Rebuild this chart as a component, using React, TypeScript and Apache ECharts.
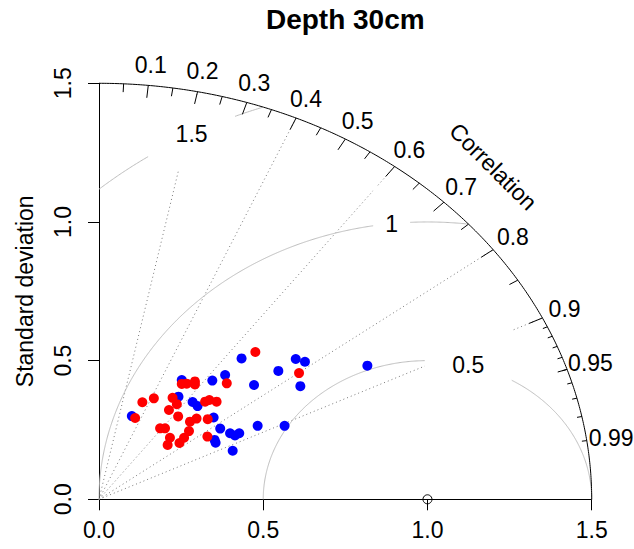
import React, { useEffect, useRef } from 'react';
import * as echarts from 'echarts';

const TITLE = 'Depth 30cm';
const Y_NAME = 'Standard deviation';
const CORR_NAME = 'Correlation';

// Points, in data units (x = sd*cor, y = sd*sin(acos(cor)))
const blueX = [0.434, 0.599, 0.627, 0.546, 0.384, 0.345, 0.252, 0.472, 0.613, 0.817, 0.242, 0.285, 0.300, 0.100, 0.349, 0.369, 0.399, 0.414, 0.427, 0.483, 0.565, 0.352, 0.355, 0.407];
const blueY = [0.508, 0.506, 0.496, 0.463, 0.448, 0.428, 0.430, 0.412, 0.408, 0.482, 0.370, 0.351, 0.336, 0.300, 0.295, 0.255, 0.238, 0.230, 0.238, 0.265, 0.265, 0.214, 0.204, 0.175];
const redX = [0.476, 0.609, 0.389, 0.252, 0.267, 0.292, 0.292, 0.132, 0.167, 0.224, 0.237, 0.213, 0.241, 0.110, 0.277, 0.297, 0.323, 0.336, 0.358, 0.331, 0.186, 0.201, 0.274, 0.259, 0.216, 0.209, 0.245, 0.330];
const redY = [0.531, 0.455, 0.418, 0.416, 0.417, 0.425, 0.414, 0.350, 0.364, 0.366, 0.343, 0.322, 0.299, 0.293, 0.280, 0.291, 0.352, 0.358, 0.352, 0.289, 0.256, 0.256, 0.246, 0.222, 0.222, 0.196, 0.203, 0.226];

const axisTicks = [0, 0.5, 1.0, 1.5];
const corrLabels = [0.1, 0.2, 0.3, 0.4, 0.5, 0.6, 0.7, 0.8, 0.9, 0.95, 0.99];
const bigTicks = [0.1, 0.2, 0.3, 0.4, 0.5, 0.6, 0.7, 0.8, 0.9];
const medTicks = [0.05, 0.15, 0.25, 0.35, 0.45, 0.55, 0.65, 0.75, 0.85, 0.95];
const smlTicks = [0.91, 0.92, 0.93, 0.94, 0.95, 0.96, 0.97, 0.98, 0.99];
const corrLines = [0.2, 0.4, 0.6, 0.8, 0.9];
const gammaLevels = [0.5, 1, 1.5];
const MAXSD = 1.5;
const REFSD = 1.0;

const FONT = 'Liberation Sans, Arial, sans-serif';

function gammaLabelPos() {
  const ng = gammaLevels.length;
  return gammaLevels.map((g, i) => {
    const idx = Math.floor(45 + ((70 - 45) * i) / (ng - 1));
    const t = (idx - 1) * 0.03;
    return [REFSD + g * Math.cos(t), g * Math.sin(t)];
  });
}

const textLabel = (extra: any = {}) => ({
  show: true,
  position: 'inside',
  formatter: '{b}',
  color: '#000',
  opacity: 1,
  fontSize: 23,
  fontFamily: FONT,
  ...extra,
});

function buildOption() {
  const series: any[] = [];
  const sinOf = (c: number) => Math.sqrt(1 - c * c);

  // correlation rays (dotted)
  corrLines.forEach((c) => {
    series.push({
      type: 'line',
      data: [[0, 0], [MAXSD * c, MAXSD * sinOf(c)]],
      symbol: 'none',
      clip: false,
      silent: true,
      z: 1,
      lineStyle: { color: '#7a7a7a', width: 1, type: [1, 3] },
    });
  });

  // centred RMS (gamma) arcs
  gammaLevels.forEach((g) => {
    const pts: number[][] = [];
    const n = 900;
    for (let i = 0; i <= n; i++) {
      const t = (Math.PI * i) / n;
      const x = REFSD + g * Math.cos(t);
      const y = g * Math.sin(t);
      if (x >= -1e-9 && x * x + y * y <= MAXSD * MAXSD) pts.push([Math.max(0, x), y]);
    }
    series.push({
      type: 'line',
      data: pts,
      symbol: 'none',
      clip: false,
      silent: true,
      z: 1,
      lineStyle: { color: '#bebebe', width: 1 },
    });
  });

  // gamma labels
  const lp = gammaLabelPos();
  series.push({
    type: 'scatter',
    symbolSize: 1,
    clip: false,
    silent: true,
    z: 5,
    itemStyle: { color: 'rgba(0,0,0,0)', opacity: 1 },
    label: textLabel(),
    data: gammaLevels.map((g, i) => ({ name: String(g), value: lp[i] })),
  });

  // outer arc
  const arc: number[][] = [];
  for (let i = 0; i <= 300; i++) {
    const t = (Math.PI / 2) * (i / 300);
    arc.push([MAXSD * Math.cos(t), MAXSD * Math.sin(t)]);
  }
  series.push({
    type: 'line',
    data: arc,
    symbol: 'none',
    clip: false,
    silent: true,
    z: 6,
    lineStyle: { color: '#000', width: 1 },
  });

  // arc ticks
  const tickSeg = (c: number, f: number) => ({
    coords: [
      [MAXSD * c, MAXSD * sinOf(c)],
      [MAXSD * f * c, MAXSD * f * sinOf(c)],
    ],
  });
  series.push({
    type: 'lines',
    coordinateSystem: 'cartesian2d',
    silent: true,
    z: 6,
    lineStyle: { color: '#000', width: 1, opacity: 1 },
    data: [
      ...bigTicks.map((c) => tickSeg(c, 0.97)),
      ...medTicks.map((c) => tickSeg(c, 0.98)),
      ...smlTicks.map((c) => tickSeg(c, 0.99)),
    ],
  });

  // correlation tick labels
  series.push({
    type: 'scatter',
    symbolSize: 1,
    clip: false,
    silent: true,
    z: 6,
    itemStyle: { color: 'rgba(0,0,0,0)', opacity: 1 },
    label: textLabel(),
    data: corrLabels.map((c) => ({
      name: String(c),
      value: [1.05 * MAXSD * c, 1.05 * MAXSD * sinOf(c)],
    })),
  });

  // "Correlation" caption
  series.push({
    type: 'scatter',
    symbolSize: 1,
    clip: false,
    silent: true,
    z: 6,
    itemStyle: { color: 'rgba(0,0,0,0)', opacity: 1 },
    label: textLabel({ rotate: -45 }),
    data: [{ name: CORR_NAME, value: [0.8 * MAXSD, 0.8 * MAXSD] }],
  });

  // reference point
  series.push({
    type: 'scatter',
    symbol: 'circle',
    symbolSize: 9,
    clip: false,
    silent: true,
    z: 6,
    itemStyle: { color: 'rgba(0,0,0,0)', borderColor: '#000', borderWidth: 1, opacity: 1 },
    data: [[REFSD, 0]],
  });

  // model points
  series.push({
    type: 'scatter',
    symbol: 'circle',
    symbolSize: 10,
    clip: false,
    z: 7,
    itemStyle: { color: '#0000ff', opacity: 1 },
    data: blueX.map((x, i) => [x, blueY[i]]),
  });
  series.push({
    type: 'scatter',
    symbol: 'circle',
    symbolSize: 10,
    clip: false,
    z: 7,
    itemStyle: { color: '#ff0000', opacity: 1 },
    data: redX.map((x, i) => [x, redY[i]]),
  });

  const axisCommon = {
    type: 'value',
    min: axisTicks[0],
    max: axisTicks[axisTicks.length - 1],
    interval: 0.5,
    splitLine: { show: false },
    axisLine: { show: true, onZero: false, lineStyle: { color: '#000', width: 1 } },
    axisTick: { show: true, inside: false, length: 11, lineStyle: { color: '#000', width: 1 } },
  };

  return {
    animation: false,
    grid: { left: 99, top: 83.3, right: 42.3, bottom: 49.7, containLabel: false },
    xAxis: {
      ...axisCommon,
      axisLabel: {
        margin: 19,
        color: '#000',
        fontSize: 23,
        fontFamily: FONT,
        formatter: (v: number) => v.toFixed(1),
      },
    },
    yAxis: {
      ...axisCommon,
      axisLabel: {
        margin: 25,
        rotate: 90,
        color: '#000',
        fontSize: 23,
        fontFamily: FONT,
        formatter: (v: number) => v.toFixed(1),
      },
    },
    graphic: [
      {
        type: 'text',
        x: 345.3,
        y: 19,
        z: 10,
        style: {
          text: TITLE,
          align: 'center',
          verticalAlign: 'middle',
          textAlign: 'center',
          textVerticalAlign: 'middle',
          fontSize: 28,
          fontWeight: 'bold',
          fontFamily: FONT,
          fill: '#000',
        },
      },
      {
        type: 'text',
        x: 25,
        y: 291.3,
        rotation: Math.PI / 2,
        z: 10,
        style: {
          text: Y_NAME,
          align: 'center',
          verticalAlign: 'middle',
          textAlign: 'center',
          textVerticalAlign: 'middle',
          fontSize: 23,
          fontFamily: FONT,
          fill: '#000',
        },
      },
    ],
    series,
  };
}

export default function App() {
  const ref = useRef<HTMLDivElement>(null);
  useEffect(() => {
    if (!ref.current) return;
    const chart = echarts.init(ref.current, undefined, { renderer: 'svg' });
    const option: any = buildOption();
    chart.setOption(option);
    // white masks behind the gamma labels, placed through the chart's own scale
    const lp = gammaLabelPos();
    const masks = gammaLevels.map((g, i) => {
      const p = chart.convertToPixel({ gridIndex: 0 }, lp[i]) as number[];
      const w = 12 + 25 * String(g).length;
      const h = 74;
      return {
        type: 'rect',
        z: 4,
        silent: true,
        shape: { x: p[0] - w / 2, y: p[1] - h / 2, width: w, height: h },
        style: { fill: '#ffffff' },
      };
    });
    chart.setOption({ graphic: [...option.graphic, ...masks] } as any);
    return () => chart.dispose();
  }, []);
  return (
    <div
      ref={ref}
      style={{ position: 'fixed', left: 0, top: 0, width: 634, height: 549, background: '#fff' }}
    />
  );
}
